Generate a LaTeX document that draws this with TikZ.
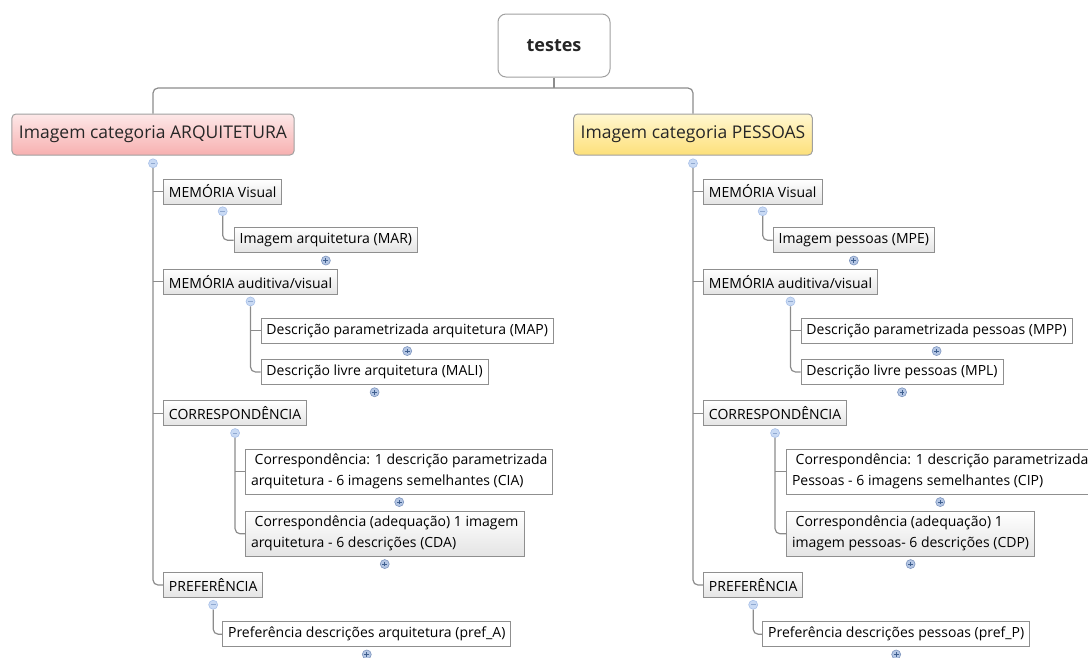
\documentclass[tikz,border=0pt]{standalone}
\usepackage{fontspec}
\setmainfont{Open Sans}
\usetikzlibrary{positioning}
\definecolor{linegray}{HTML}{8C8C8C}
\definecolor{boxgray}{HTML}{8F8F8F}
\definecolor{topline}{HTML}{A0A0A0}
\definecolor{leafgray}{HTML}{E4E4E4}
\definecolor{arqtop}{HTML}{FDE8E8}
\definecolor{arqbot}{HTML}{F7B0B0}
\definecolor{pestop}{HTML}{FFF7D0}
\definecolor{pesbot}{HTML}{FDE07A}
\definecolor{minusfill}{HTML}{C9DAF4}
\definecolor{minusline}{HTML}{A8C0E8}
\definecolor{minussign}{HTML}{8FA8D0}
\definecolor{plusfill}{HTML}{B4C6E4}
\definecolor{plusline}{HTML}{7D95BE}
\definecolor{plussign}{HTML}{3F5F8F}
\definecolor{darktext}{HTML}{262626}
\def\lnk{\draw[linegray,line width=1.2pt,rounded corners=5pt]}

\begin{document}
\begin{tikzpicture}[x=1pt,y=-1pt,
  topbox/.style={draw=topline,line width=1pt,rounded corners=8pt,minimum width=112pt,
    minimum height=63pt,font=\fontsize{18}{20}\selectfont\bfseries,text=darktext},
  catbox/.style={draw=topline,line width=1pt,rounded corners=4pt,minimum height=41pt,
    inner xsep=7pt,font=\fontsize{17.5}{20}\selectfont,text=darktext},
  box/.style={draw=boxgray,line width=0.9pt,anchor=west,inner xsep=5.5pt,inner ysep=0pt,
    minimum height=25pt,font=\fontsize{14}{21}\selectfont},
  whitebox/.style={box,fill=white},
  greybox/.style={box,top color=white,bottom color=leafgray},
  two/.style={align=left,minimum height=45pt},
  tgl/.style={circle,inner sep=0pt,minimum size=9pt,line width=0.6pt},
  togminus/.style={tgl,draw=minusline,fill=minusfill,path picture={
    \draw[minussign,line width=0.8pt] ([xshift=-2.4pt]path picture bounding box.center)
      -- ([xshift=2.4pt]path picture bounding box.center);}},
  togplus/.style={tgl,draw=plusline,fill=plusfill,path picture={
    \draw[plussign,line width=0.8pt] ([xshift=-2.4pt]path picture bounding box.center)
      -- ([xshift=2.4pt]path picture bounding box.center)
      ([yshift=-2.4pt]path picture bounding box.center)
      -- ([yshift=2.4pt]path picture bounding box.center);}}]
\useasboundingbox (0,0) rectangle (1088,657);

\node[topbox] (testes) at (554,45.5) {testes};
\coordinate (split) at (554,88);
\node[catbox,top color=arqtop,bottom color=arqbot] (arq) at (153,134.5) {Imagem categoria ARQUITETURA};
\node[catbox,top color=pestop,bottom color=pesbot] (pes) at (693,134.5) {Imagem categoria PESSOAS};
\node[togminus,below=3pt of arq] (arq-t) {};
\node[togminus,below=3pt of pes] (pes-t) {};

% ARQUITETURA
\node[greybox] (memv-a) at ([xshift=10pt]arq-t |- 0,191.5) {MEMÓRIA Visual};
\node[greybox] (memav-a) at ([xshift=10pt]arq-t |- 0,281.7) {MEMÓRIA auditiva/visual};
\node[greybox] (corr-a) at ([xshift=10pt]arq-t |- 0,413.3) {CORRESPONDÊNCIA};
\node[greybox] (pref-a) at ([xshift=10pt]arq-t |- 0,585) {PREFERÊNCIA};
\foreach \n in {memv-a,memav-a,corr-a,pref-a} \node[togminus,below=2pt of \n] (\n-t) {};

\node[greybox] (mar) at ([xshift=11pt]memv-a-t |- 0,240.3) {Imagem arquitetura (MAR)};
\node[whitebox] (map) at ([xshift=10pt]memav-a-t |- 0,330.8) {Descrição parametrizada arquitetura (MAP)};
\node[whitebox] (mali) at ([xshift=10pt]memav-a-t |- 0,372) {Descrição livre arquitetura (MALI)};
\node[whitebox,two] (cia) at ([xshift=10pt]corr-a-t |- 0,471.8) {~Correspondência: 1 descrição parametrizada\\arquitetura - 6 imagens semelhantes (CIA)};
\node[greybox,two] (cda) at ([xshift=10pt]corr-a-t |- 0,533.8) {~Correspondência (adequação) 1 imagem\\arquitetura - 6 descrições (CDA)};
\node[whitebox] (prefa) at ([xshift=9pt]pref-a-t |- 0,634.2) {Preferência descrições arquitetura (pref\_A)};

% PESSOAS
\node[greybox] (memv-p) at ([xshift=10pt]pes-t |- 0,191.5) {MEMÓRIA Visual};
\node[greybox] (memav-p) at ([xshift=10pt]pes-t |- 0,281.7) {MEMÓRIA auditiva/visual};
\node[greybox] (corr-p) at ([xshift=10pt]pes-t |- 0,413.3) {CORRESPONDÊNCIA};
\node[greybox] (pref-p) at ([xshift=10pt]pes-t |- 0,585) {PREFERÊNCIA};
\foreach \n in {memv-p,memav-p,corr-p,pref-p} \node[togminus,below=2pt of \n] (\n-t) {};

\node[greybox] (mpe) at ([xshift=10pt]memv-p-t |- 0,240.3) {Imagem pessoas (MPE)};
\node[whitebox] (mpp) at ([xshift=10pt]memav-p-t |- 0,330.8) {Descrição parametrizada pessoas (MPP)};
\node[whitebox] (mpl) at ([xshift=10pt]memav-p-t |- 0,372) {Descrição livre pessoas (MPL)};
\node[whitebox,two] (cip) at ([xshift=11pt]corr-p-t |- 0,471.8) {~Correspondência: 1 descrição parametrizada\\Pessoas - 6 imagens semelhantes (CIP)};
\node[greybox,two] (cdp) at ([xshift=11pt]corr-p-t |- 0,533.8) {~Correspondência (adequação) 1\\imagem pessoas- 6 descrições (CDP)};
\node[whitebox] (prefp) at ([xshift=9pt]pref-p-t |- 0,634.2) {Preferência descrições pessoas (pref\_P)};

\foreach \n in {mar,map,mali,cia,cda,prefa,mpe,mpp,mpl,cip,cdp,prefp}
  \node[togplus,below=2.5pt of \n] (\n-t) {};

% connectors
\lnk (arq.north) |- (split) -| (pes.north);
\lnk (testes) -- (split);
\lnk (arq-t) |- (pref-a.west);
\lnk (pes-t) |- (pref-p.west);
\foreach \n in {memv-a,memav-a,corr-a} \lnk (arq-t |- \n.west) -- (\n.west);
\foreach \n in {memv-p,memav-p,corr-p} \lnk (pes-t |- \n.west) -- (\n.west);
\lnk (memv-a-t) |- (mar.west);
\lnk (memv-p-t) |- (mpe.west);
\lnk (memav-a-t) |- (mali.west);
\lnk (memav-p-t) |- (mpl.west);
\lnk (memav-a-t |- map.west) -- (map.west);
\lnk (memav-p-t |- mpp.west) -- (mpp.west);
\lnk (corr-a-t) |- (cda.west);
\lnk (corr-p-t) |- (cdp.west);
\lnk (corr-a-t |- cia.west) -- (cia.west);
\lnk (corr-p-t |- cip.west) -- (cip.west);
\lnk (pref-a-t) |- (prefa.west);
\lnk (pref-p-t) |- (prefp.west);
\end{tikzpicture}
\end{document}
